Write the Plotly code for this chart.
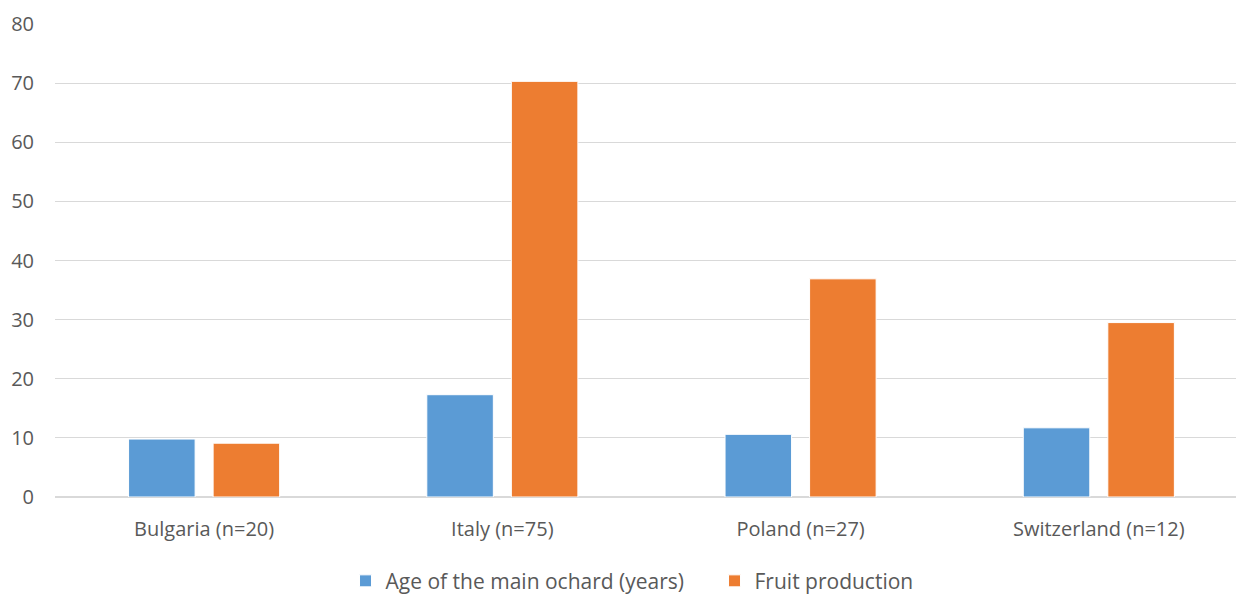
import plotly.graph_objects as go

categories = ["Bulgaria (n=20)", "Italy (n=75)", "Poland (n=27)", "Switzerland (n=12)"]
age_years = [9.8, 17.3, 10.6, 11.7]
fruit_production = [9.1, 70.3, 36.9, 29.5]
series_names = ["Age of the main ochard (years)", "Fruit production"]
y_ticks = [0, 10, 20, 30, 40, 50, 60, 70, 80]

fig = go.Figure()
fig.add_trace(go.Bar(x=categories, y=age_years, name=series_names[0],
                     marker=dict(color="#5B9BD5", line=dict(color="white", width=1))))
fig.add_trace(go.Bar(x=categories, y=fruit_production, name=series_names[1],
                     marker=dict(color="#ED7D31", line=dict(color="white", width=1))))

fig.update_layout(
    width=1237, height=594,
    margin=dict(l=55, r=1, t=24, b=97, autoexpand=False),
    paper_bgcolor="white", plot_bgcolor="white",
    barmode="group", bargap=0.433, bargroupgap=0.213,
    font=dict(family="Open Sans, Liberation Sans, sans-serif", size=20, color="#595959"),
    legend=dict(orientation="h", x=0.246, xanchor="left", y=-0.178, yanchor="middle",
                font=dict(size=21, color="#595959"), itemwidth=30,
                entrywidth=324, entrywidthmode="pixels"),
    showlegend=True,
)
fig.update_yaxes(range=[0, 80], tickvals=y_ticks, showgrid=True, gridcolor="#D9D9D9",
                 gridwidth=1, zeroline=True, zerolinecolor="#D9D9D9", showline=False,
                 ticks="", ticklabelstandoff=20, automargin=False)
fig.update_xaxes(range=[-0.5, 3.46], showgrid=False, showline=False, ticks="",
                 ticklabelstandoff=18, automargin=False)

fig.write_html("out.html")
